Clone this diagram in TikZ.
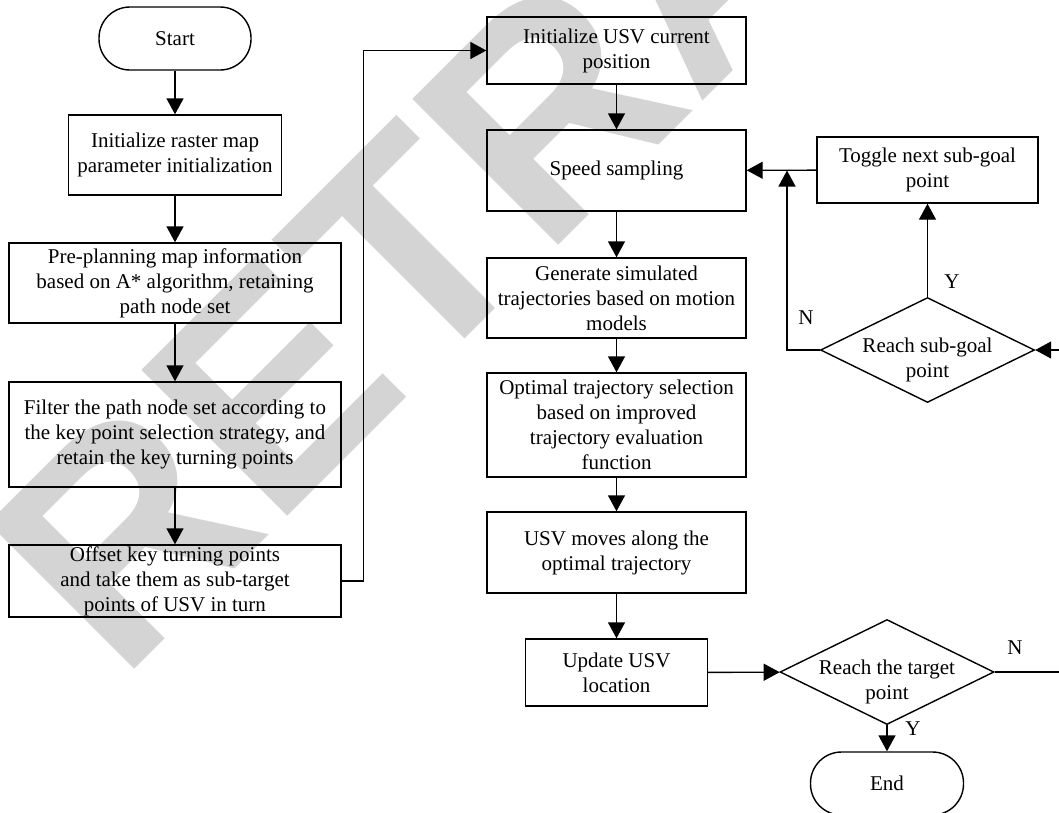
\documentclass[tikz,border=0pt]{standalone}
\usepackage{fontspec}
\setmainfont{Liberation Serif}
\newfontfamily\wmfont{Liberation Sans}
\usetikzlibrary{arrows.meta, shapes.geometric}
\definecolor{wmgray}{RGB}{212,212,212}

\begin{document}
\begin{tikzpicture}[x=1pt, y=-1pt, >={Triangle[length=16pt,width=17pt]}, line width=1.4pt,
  box/.style={draw, align=center, inner sep=0pt, font=\fontsize{21}{25}\selectfont},
  term/.style={box, rounded corners=31pt, minimum width=152pt, minimum height=63pt},
  dec/.style={box, diamond, aspect=2, inner sep=-12pt, minimum width=214pt, minimum height=105pt},
  lbl/.style={font=\fontsize{21}{25}\selectfont}]
\useasboundingbox (0,0) rectangle (1059,812);
% watermark
\node[text=wmgray, font=\wmfont\bfseries\fontsize{300}{300}\selectfont, rotate=45, anchor=base west, inner sep=0pt] (wm) at (120,684) {RETRACTED};
% left column
\node[term] (start) at (175,38.5) {Start};
\node[box, minimum width=213pt, minimum height=80pt] (init) at (175,155) {Initialize raster map\\parameter initialization};
\node[box, minimum width=332pt, minimum height=80pt] (pre) at (175,283) {Pre-planning map information\\based on A* algorithm, retaining\\path node set};
\node[box, minimum width=332pt, minimum height=105pt] (filt) at (175,434.5) {Filter the path node set according to\\the key point selection strategy, and\\retain the key turning points};
\node[box, minimum width=332pt, minimum height=72pt] (offs) at (175,581) {Offset key turning points\\and take them as sub-target\\points of USV in turn};
% right column
\node[box, minimum width=259pt, minimum height=67pt] (usvinit) at (616.5,50.5) {Initialize USV current\\position};
\node[box, minimum width=259pt, minimum height=81pt] (speed) at (616.5,170.5) {Speed sampling};
\node[box, minimum width=259pt, minimum height=80pt] (gen) at (616.5,298) {Generate simulated\\trajectories based on motion\\models};
\node[box, minimum width=259pt, minimum height=104pt] (opt) at (616.5,425) {Optimal trajectory selection\\based on improved\\trajectory evaluation\\function};
\node[box, minimum width=259pt, minimum height=81pt] (move) at (616.5,552.5) {USV moves along the\\optimal trajectory};
\node[box, minimum width=182pt, minimum height=67pt] (upd) at (616.5,672.5) {Update USV\\location};
\node[dec] (target) at (887,672) {\rule{0pt}{35pt}Reach the target\\point};
\node[term, minimum width=153pt] (end) at (887,783.5) {End};
% sub-goal loop
\node[box, minimum width=221pt, minimum height=66pt] (toggle) at (927.5,170) {Toggle next sub-goal\\point};
\node[dec] (sub) at (927.5,350) {\rule{0pt}{35pt}Reach sub-goal\\point};
\coordinate (junc) at (787,170.5);
\coordinate (far) at (1090,672);
% connectors
\draw[->] (start) -- (init);
\draw[->] (init) -- (pre);
\draw[->] (pre) -- (filt);
\draw[->] (filt) -- (offs);
\draw[->] (offs.east) -- ++(22,0) |- (usvinit.west);
\draw[->] (usvinit) -- (speed);
\draw[->] (speed) -- (gen);
\draw[->] (gen) -- (opt);
\draw[->] (opt) -- (move);
\draw[->] (move) -- (upd);
\draw[->] (upd) -- (target);
\draw[->] (target) -- (end);
\draw[->] (target.east) -- (far) |- (sub.east);
\draw[->] (sub) -- (toggle);
\draw[->] (toggle) -- (speed);
\draw[->] (sub.west) -| (junc);
% labels
\node[lbl] (ytarget) at (913,729) {Y};
\node[lbl] (ntarget) at (1015,648) {N};
\node[lbl] (ysub) at (952,282) {Y};
\node[lbl] (nsub) at (806,318) {N};
\end{tikzpicture}
\end{document}
